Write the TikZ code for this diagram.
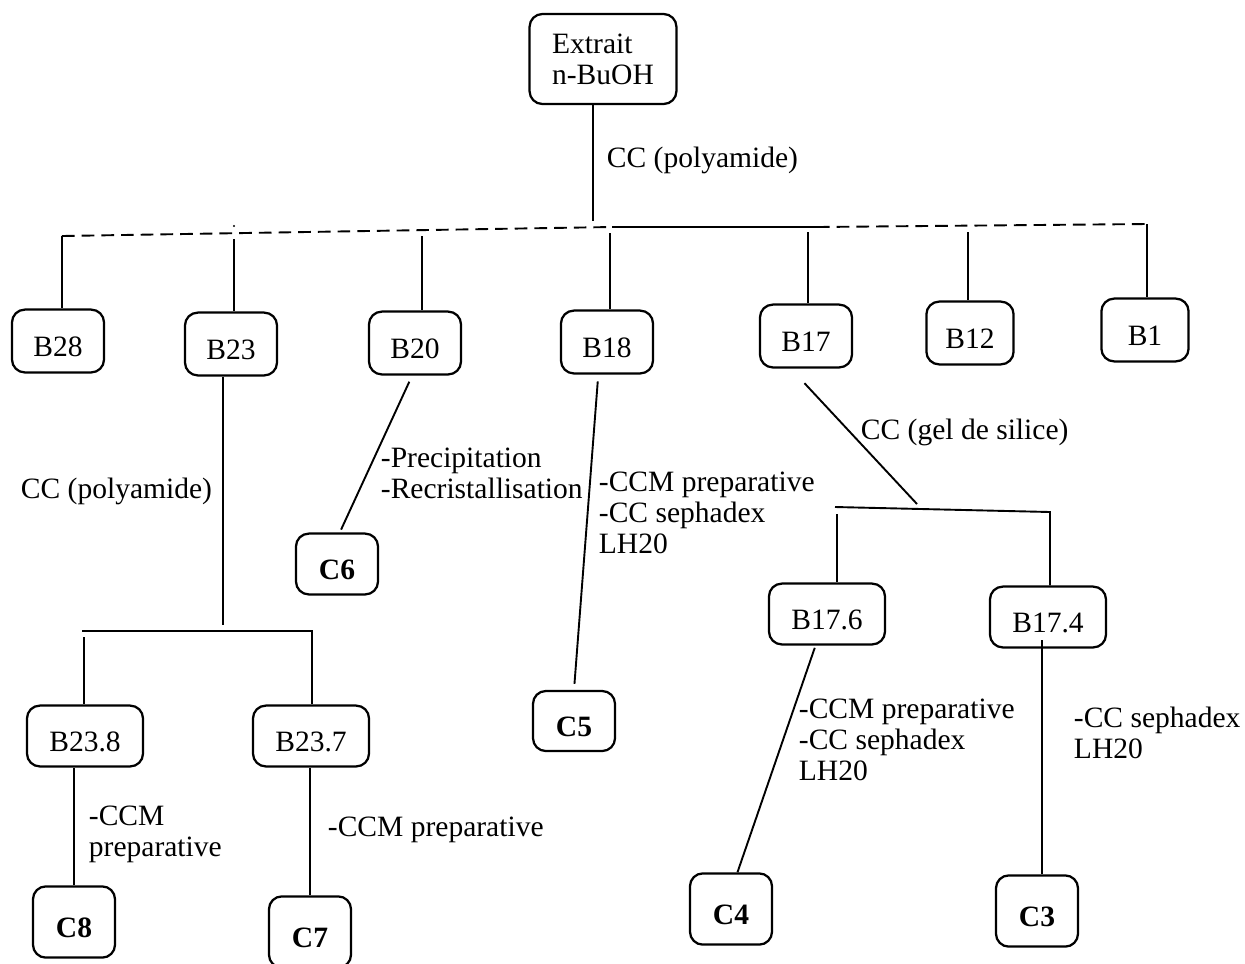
\documentclass[tikz,border=0pt]{standalone}
\usepackage{fontspec}
\setmainfont{Liberation Serif}
\begin{document}
\begin{tikzpicture}[x=0.025cm,y=-0.025cm,line width=1.35pt,
  every node/.style={font=\fontsize{21}{22}\selectfont},
  fr/.style={draw,line width=1.6pt,rounded corners=0.32cm,inner sep=0pt,
    text height=0.76cm,text depth=0pt,
    minimum width=2.3cm,minimum height=1.57cm},
  sub/.style={fr,minimum width=2.9cm,minimum height=1.52cm},
  cp/.style={fr,minimum width=2.05cm,minimum height=1.78cm,
    font=\fontsize{21}{22}\selectfont\bfseries},
  lab/.style={inner sep=0pt,align=left},
  bus/.style={dash pattern=on 9pt off 5pt}]
\useasboundingbox (0,0) rectangle (1245,963);
\path node[fr,text height=,text depth=,minimum width=3.67cm,minimum height=2.25cm,align=left] (Ext) at (603,59) {Extrait\\n-BuOH}
node[fr] (B28) at (58,341) {B28}
node[fr] (B23) at (231,344) {B23}
node[fr] (B20) at (415,343) {B20}
node[fr] (B18) at (607,342) {B18}
node[fr] (B17) at (806,336) {B17}
node[fr,minimum width=2.18cm] (B12) at (970,333) {B12}
node[fr,minimum width=2.18cm] (B1) at (1145,330) {B1}
node[cp,minimum height=1.52cm] (C6) at (337,564) {C6}
node[cp,minimum height=1.5cm] (C5) at (574,721) {C5}
node[sub] (B238) at (85,736) {B23.8}
node[sub] (B237) at (311,736) {B23.7}
node[cp] (C8) at (74,922) {C8}
node[cp] (C7) at (310,932) {C7}
node[sub] (B176) at (827,614) {B17.6}
node[sub] (B174) at (1048,617) {B17.4}
node[cp] (C4) at (731,909) {C4}
node[cp] (C3) at (1037,911) {C3}
;
% labels
\path node[lab,anchor=base west] (l0) at (606,167) {CC (polyamide)}
node[lab,anchor=base east] (l1) at (213,498) {CC (polyamide)}
node[lab,anchor=north west] (l2) at (380,447) {-Precipitation\\-Recristallisation}
node[lab,anchor=north west] (l3) at (598,471) {-CCM preparative\\-CC sephadex\\LH20}
node[lab,anchor=base west] (l4) at (860,439) {CC (gel de silice)}
node[lab,anchor=north west] (l5) at (88,805) {-CCM\\preparative}
node[lab,anchor=base west] (l6) at (327,836) {-CCM preparative}
node[lab,anchor=north west] (l7) at (798,698) {-CCM preparative\\-CC sephadex\\LH20}
node[lab,anchor=north west] (l8) at (1073,706) {-CC sephadex\\LH20}
;
% first split
\coordinate (jc) at (593,221);
\coordinate (j28) at (62,236);
\coordinate (j18) at (612,227);
\coordinate (j17) at (817,227);
\coordinate (j1) at (1147,224);
\coordinate (t23) at (234,239);
\coordinate (t20) at (422,236);
\coordinate (t18) at (610,233);
\coordinate (t17) at (808,232);
\coordinate (t12) at (968,232);
\draw   (Ext.south -| jc) -- (jc);
\draw[bus]   (j28) -- (j18);
\draw   (j18) -- (j17);
\draw[bus]   (j17) -- (j1);
\fill   (234,226) circle (1.2);
\draw   (j28) -- (j28 |- B28.north);
\draw   (t23) -- (t23 |- B23.north);
\draw   (t20) -- (t20 |- B20.north);
\draw   (t18) -- (t18 |- B18.north);
\draw   (t17) -- (t17 |- B17.north);
\draw   (t12) -- (t12 |- B12.north);
\draw   (j1) -- (j1 |- B1.north);
% B23
\coordinate (b23) at (223,625);
\coordinate (h23l) at (82,631);
\coordinate (h23r) at (312,631);
\coordinate (d238) at (84,637);
\draw   (b23 |- B23.south) -- (b23);
\draw   (h23l) -- (h23r) -- (h23r |- B237.north);
\draw   (d238) -- (d238 |- B238.north);
\draw   (C8.north) -- (C8.north |- B238.south);
\draw   (C7.north) -- (C7.north |- B237.south);
% B20, B18
\draw[shorten <=0.17cm,shorten >=0.08cm]   (B20.-95) -- (C6.85);
\draw[shorten <=0.17cm,shorten >=0.15cm]   (B18.-105) -- (C5.north);
% B17
\coordinate (g17) at (917,504);
\coordinate (h17l) at (835,507);
\coordinate (h17r) at (1050,512);
\coordinate (d176) at (837,514);
\coordinate (s174) at (1042,640);
\draw[shorten <=0.5cm]   (B17.-115) -- (g17);
\draw   (h17l) -- (h17r) -- (h17r |- B174.north);
\draw   (d176) -- (d176 |- B176.north);
\draw[shorten <=0.06cm]   (B176.-110) -- (C4.80);
\draw   (s174) -- (s174 |- C3.north);
\end{tikzpicture}
\end{document}
